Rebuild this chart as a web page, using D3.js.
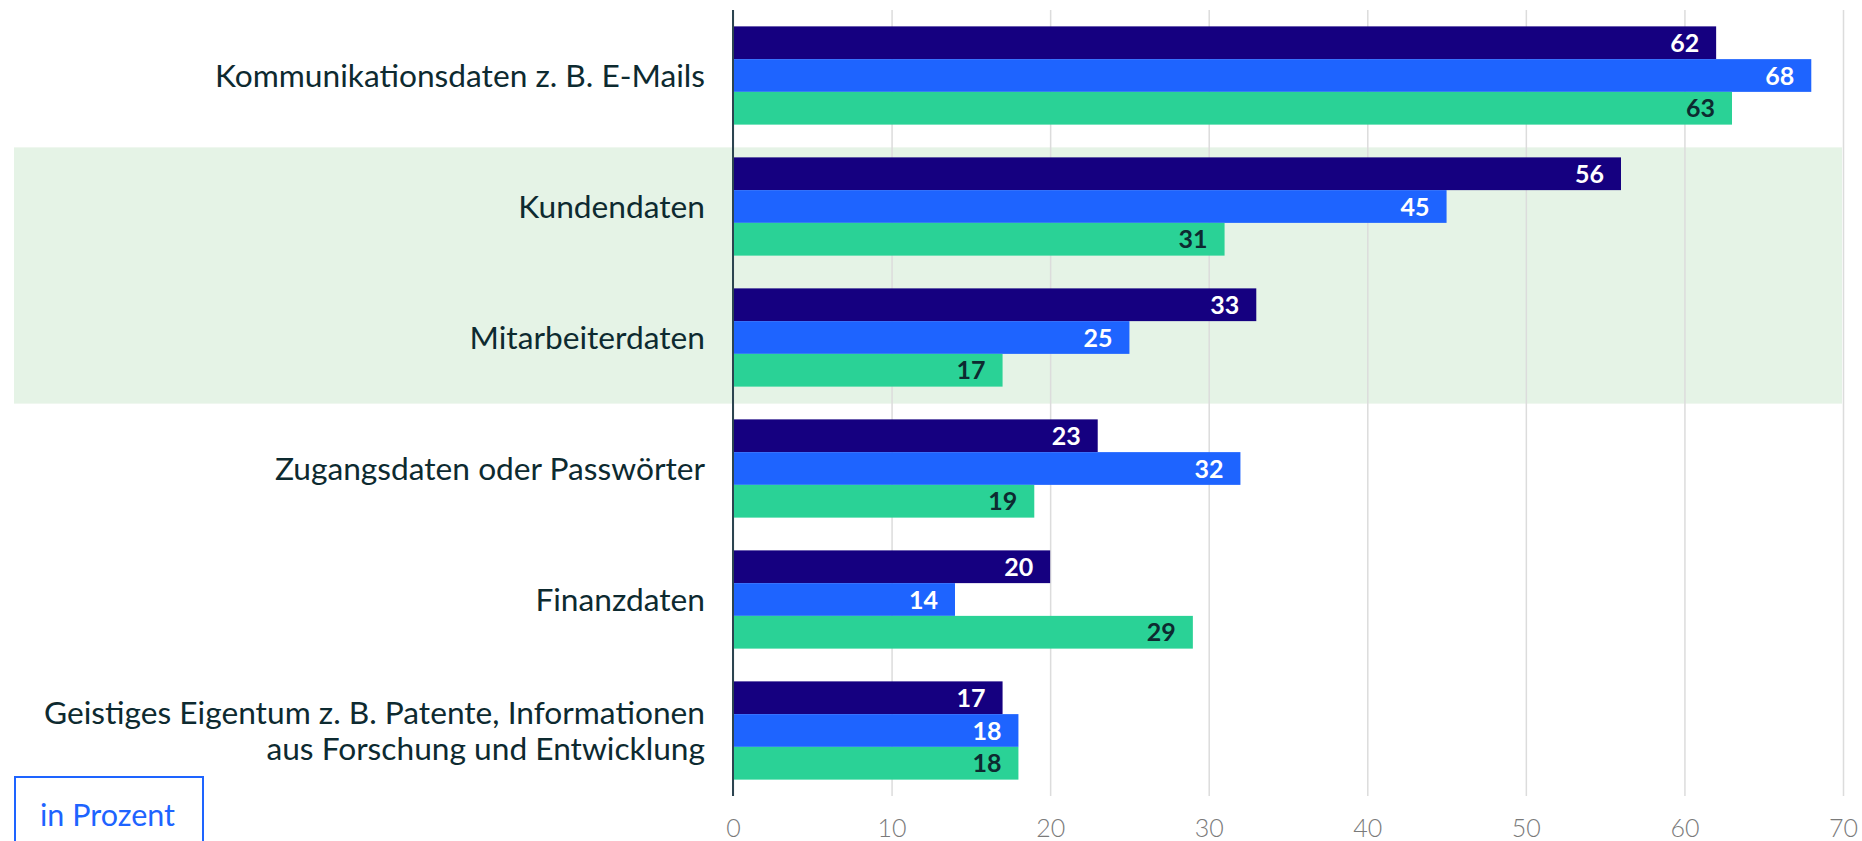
<!DOCTYPE html>
<html>
<head>
<meta charset="utf-8">
<script src="https://cdn.jsdelivr.net/npm/d3@7"></script>
<style>
  html, body { margin: 0; padding: 0; background: #ffffff; }
  svg { display: block; }
</style>
</head>
<body>
<svg id="chart" width="1862" height="841"></svg>
<script>
const categories = [
  ["Kommunikationsdaten z. B. E-Mails"],
  ["Kundendaten"],
  ["Mitarbeiterdaten"],
  ["Zugangsdaten oder Passwörter"],
  ["Finanzdaten"],
  ["Geistiges Eigentum z. B. Patente, Informationen", "aus Forschung und Entwicklung"]
];
const seriesA = [62, 56, 33, 23, 20, 17];
const seriesB = [68, 45, 25, 32, 14, 18];
const seriesC = [63, 31, 17, 19, 29, 18];
const seriesKeys = ["A", "B", "C"];
const xTicks = [0, 10, 20, 30, 40, 50, 60, 70];
const highlighted = [1, 2];
const unitLabel = "in Prozent";

const colors = { A: "#150080", B: "#1e64ff", C: "#2ad296" };
const labelColors = { A: "#ffffff", B: "#ffffff", C: "#0d2a30" };
const values = { A: seriesA, B: seriesB, C: seriesC };

const svg = d3.select("#chart");
const font = "Lato, 'Open Sans', sans-serif";

const x = d3.scaleLinear().domain([0, 70]).range([733, 1843]);
const y = d3.scaleBand().domain(d3.range(categories.length)).range([10, 796])
  .paddingInner(0.25).paddingOuter(0.125);
const ySub = d3.scaleBand().domain(seriesKeys).range([0, y.bandwidth()]);

// highlight band
const hTop = y(highlighted[0]) - 10;
const hBot = y(highlighted[highlighted.length - 1]) + y.bandwidth() + 17;
svg.append("rect").attr("x", 14).attr("y", hTop).attr("width", 1842 - 14).attr("height", hBot - hTop)
  .attr("fill", "#e5f3e6");

// gridlines + tick labels via axis
const xAxis = d3.axisBottom(x).tickValues(xTicks).tickSize(-(796 - 10)).tickFormat(d3.format("d"));
const gAxis = svg.append("g").attr("transform", "translate(0,796)").call(xAxis);
gAxis.select(".domain").remove();
gAxis.selectAll(".tick line").attr("stroke", "#dcdcdc").attr("stroke-width", 1.5);
gAxis.selectAll(".tick text")
  .attr("y", 41).attr("dy", 0)
  .attr("fill", "#7a7a7a").attr("font-family", font).attr("font-weight", 300)
  .attr("font-size", 25);

// bars
const groups = svg.append("g").selectAll("g").data(categories).join("g")
  .attr("transform", (d, i) => `translate(0,${y(i)})`);

seriesKeys.forEach(k => {
  groups.append("rect")
    .attr("x", x(0))
    .attr("y", ySub(k))
    .attr("width", (d, i) => x(values[k][i]) - x(0))
    .attr("height", ySub.bandwidth())
    .attr("fill", colors[k]);
  groups.append("text")
    .attr("x", (d, i) => x(values[k][i]) - 17)
    .attr("y", ySub(k) + ySub.bandwidth() / 2)
    .attr("dy", "0.36em")
    .attr("text-anchor", "end")
    .attr("fill", labelColors[k])
    .attr("font-family", font)
    .attr("font-weight", 700)
    .attr("font-size", 25)
    .text((d, i) => values[k][i]);
});

// axis line
svg.append("line").attr("x1", x(0)).attr("x2", x(0)).attr("y1", 10).attr("y2", 796)
  .attr("stroke", "#2c4450").attr("stroke-width", 2);

// category labels
const labels = svg.append("g").selectAll("text").data(categories).join("text")
  .attr("x", 705)
  .attr("y", (d, i) => y(i) + y.bandwidth() / 2)
  .attr("text-anchor", "end")
  .attr("fill", "#0d2a30")
  .attr("font-family", font)
  .attr("font-size", 31.7);
labels.each(function(d) {
  const t = d3.select(this);
  const n = d.length;
  d.forEach((line, j) => {
    t.append("tspan").attr("x", 705)
      .attr("dy", j === 0 ? `${0.36 - (n - 1) * 0.57}em` : "1.14em")
      .text(line);
  });
});

// unit box
svg.append("rect").attr("x", 15).attr("y", 777).attr("width", 188).attr("height", 80)
  .attr("fill", "none").attr("stroke", "#1e64ff").attr("stroke-width", 2);
svg.append("text").attr("x", 40).attr("y", 826)
  .attr("fill", "#1e64ff").attr("font-family", font).attr("font-size", 30.5)
  .text(unitLabel);
</script>
</body>
</html>
